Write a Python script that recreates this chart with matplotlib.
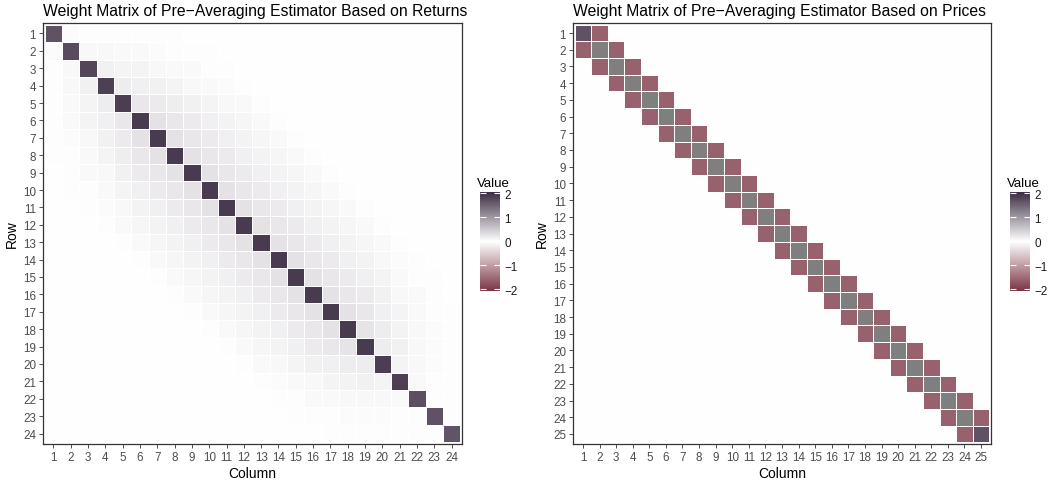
import numpy as np
import matplotlib.pyplot as plt
from matplotlib.colors import LinearSegmentedColormap, Normalize
from matplotlib.cm import ScalarMappable

plt.rcParams['font.family'] = ['Liberation Sans', 'DejaVu Sans']

# -----------------------------------------------------------------------
# Data
# -----------------------------------------------------------------------
# returns-based weights: diagonal and upper band (offsets 1, 2, ...)
ret_diag = [1.68, 1.75, 1.80, 1.85, 1.88, 1.90, 1.90, 1.90, 1.90, 1.90,
            1.90, 1.90, 1.90, 1.90, 1.90, 1.90, 1.90, 1.90, 1.90, 1.88,
            1.85, 1.72, 1.68, 1.66]
ret_band = [
    [0.03, 0.02, 0.02, 0.02, 0.01, 0.01, 0.01, 0.00],
    [0.07, 0.06, 0.05, 0.04, 0.03, 0.02, 0.01, 0.01],
    [0.12, 0.10, 0.09, 0.07, 0.05, 0.04, 0.02, 0.01],
    [0.18, 0.15, 0.12, 0.10, 0.07, 0.05, 0.03, 0.01],
    [0.23, 0.20, 0.16, 0.13, 0.09, 0.07, 0.04, 0.02],
    [0.27, 0.23, 0.19, 0.15, 0.11, 0.08, 0.05, 0.02],
    [0.27, 0.23, 0.19, 0.15, 0.11, 0.08, 0.05, 0.02],
    [0.27, 0.23, 0.19, 0.15, 0.11, 0.08, 0.05, 0.02],
    [0.27, 0.23, 0.19, 0.15, 0.11, 0.08, 0.05, 0.02],
    [0.27, 0.23, 0.19, 0.15, 0.11, 0.08, 0.05, 0.02],
    [0.27, 0.23, 0.19, 0.15, 0.11, 0.08, 0.05, 0.02],
    [0.27, 0.23, 0.19, 0.15, 0.11, 0.08, 0.05, 0.02],
    [0.27, 0.23, 0.19, 0.15, 0.11, 0.08, 0.04, 0.01],
    [0.27, 0.23, 0.19, 0.15, 0.11, 0.07, 0.03, 0.01],
    [0.27, 0.23, 0.19, 0.15, 0.09, 0.05, 0.02, 0.01],
    [0.27, 0.23, 0.19, 0.13, 0.07, 0.04, 0.01, 0.00],
    [0.27, 0.22, 0.15, 0.10, 0.05, 0.02, 0.01],
    [0.25, 0.18, 0.11, 0.06, 0.03, 0.01],
    [0.18, 0.12, 0.07, 0.03, 0.01],
    [0.10, 0.06, 0.03, 0.01],
    [0.04, 0.02, 0.01],
    [0.02, 0.01],
    [0.01],
    [],
]

# price-based weights: tridiagonal (interior diagonal is out of range -> grey)
price_diag = [1.68] + [2.20] * 23 + [1.68]
price_off = [-1.62] * 24

# -----------------------------------------------------------------------
# Build matrices
# -----------------------------------------------------------------------
n1 = len(ret_diag)
W_ret = np.diag(ret_diag)
for i, row in enumerate(ret_band):
    for k, v in enumerate(row):
        j = i + k + 1
        if j < n1:
            W_ret[i, j] = v
            W_ret[j, i] = v

n2 = len(price_diag)
W_price = np.diag(price_diag) + np.diag(price_off, 1) + np.diag(price_off, -1)

# -----------------------------------------------------------------------
# Plot
# -----------------------------------------------------------------------
cmap = LinearSegmentedColormap.from_list(
    'val', ['#7a3444', '#ffffff', '#3b2c42'])
cmap.set_over('#7f7f7f')
norm = Normalize(vmin=-2.08, vmax=2.06)

W, H = 1051, 485
fig = plt.figure(figsize=(W / 100, H / 100), dpi=100)

panels = [
    (W_ret, 'Weight Matrix of Pre\u2212Averaging Estimator Based on Returns',
     [43, 24, 419, 421], [480, 193, 20, 99]),
    (W_price, 'Weight Matrix of Pre\u2212Averaging Estimator Based on Prices',
     [573, 24, 418, 421], [1010, 193, 20, 99]),
]

for M, title, (x0, y0, w, h), (cx, cy, cw, ch) in panels:
    n = M.shape[0]
    ax = fig.add_axes([x0 / W, 1 - (y0 + h) / H, w / W, h / H])
    edges = np.arange(n + 1) + 0.5
    ax.pcolormesh(edges, edges, M, cmap=cmap, norm=norm,
                  edgecolors='white', linewidth=0.4)
    ax.set_xlim(0.4, n + 0.6)
    ax.set_ylim(n + 0.6, 0.4)
    ticks = np.arange(1, n + 1)
    ax.set_xticks(ticks)
    ax.set_yticks(ticks)
    ax.set_xticklabels([str(t) for t in ticks])
    ax.set_yticklabels([str(t) for t in ticks])
    ax.tick_params(labelsize=8.4, labelcolor='#4d4d4d', color='#333333',
                   length=3, width=0.6, pad=2)
    for s in ax.spines.values():
        s.set_color('#333333')
        s.set_linewidth(0.9)
    ax.set_xlabel('Column', fontsize=10, labelpad=2)
    ax.set_ylabel('Row', fontsize=10, labelpad=3)
    ax.set_title(title, fontsize=11.3, loc='left', pad=6)

    cax = fig.add_axes([cx / W, 1 - (cy + ch) / H, cw / W, ch / H])
    cb = fig.colorbar(ScalarMappable(norm=norm, cmap=cmap), cax=cax)
    cb.outline.set_visible(False)
    cb.set_ticks([-2, -1, 0, 1, 2])
    cb.set_ticklabels(['\u22122', '\u22121', '0', '1', '2'])
    cax.yaxis.set_ticks_position('both')
    cax.tick_params(left=True, right=True, labelleft=False, labelright=True,
                    direction='in', color='white', length=4, width=0.8,
                    labelsize=8.4, labelcolor='#1a1a1a', pad=3)
    cax.set_title('Value', fontsize=9.5, loc='left', pad=4.5, x=-0.15)

fig.savefig('out.png', dpi=100)
